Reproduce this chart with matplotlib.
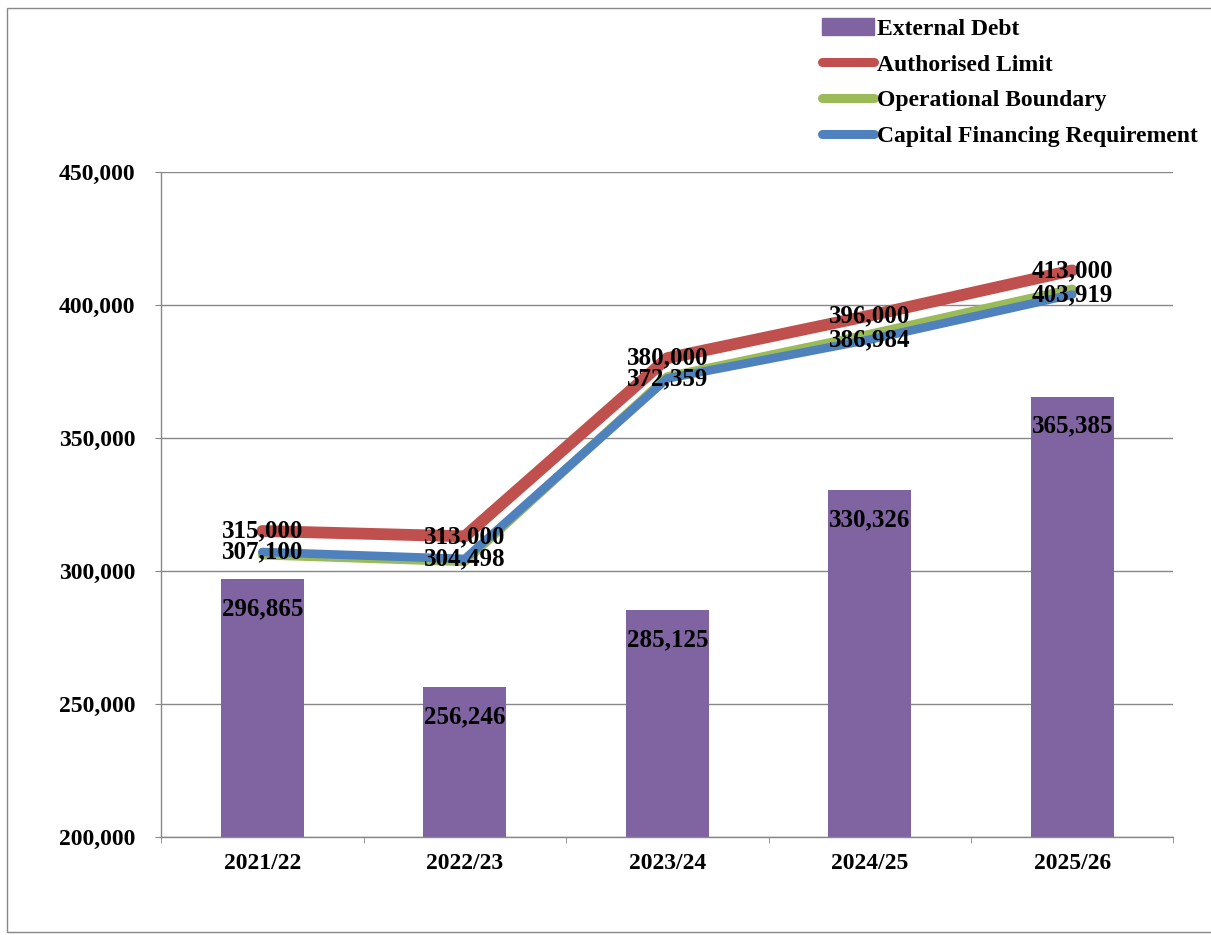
import numpy as np
import matplotlib
matplotlib.use("Agg")
import matplotlib.pyplot as plt
from matplotlib.patches import Rectangle, Patch
from matplotlib.lines import Line2D
from matplotlib.ticker import FuncFormatter

plt.rcParams.update({
    "font.family": ["Liberation Serif", "DejaVu Serif"],
    "font.weight": "bold",
})

# --- data
years = ["2021/22", "2022/23", "2023/24", "2024/25", "2025/26"]
external_debt = [296865, 256246, 285125, 330326, 365385]
authorised_limit = [315000, 313000, 380000, 396000, 413000]
operational_boundary = [306000, 303500, 373000, 389000, 406000]
cfr = [307100, 304498, 372359, 386984, 403919]

c_bar = "#8064A2"
c_red = "#C0504D"
c_green = "#9BBB59"
c_blue = "#4F81BD"
c_axis = "#888888"

fig = plt.figure(figsize=(12.11, 9.35), dpi=100)
ax = fig.add_axes([0.133, 0.105, 0.836, 0.711])

x = np.arange(len(years))

# --- bars and lines
bars = ax.bar(x, external_debt, width=0.41, color=c_bar, zorder=2)
ax.plot(x, authorised_limit, color=c_red, lw=8.5, solid_capstyle="round",
        solid_joinstyle="round", zorder=3)
ax.plot(x, operational_boundary, color=c_green, lw=6.5, solid_capstyle="round",
        solid_joinstyle="round", zorder=4)
ax.plot(x, cfr, color=c_blue, lw=6.2, solid_capstyle="round",
        solid_joinstyle="round", zorder=5)

# --- data labels
lab_fs = 18
for xi, v in zip(x, external_debt):
    ax.annotate(f"{v:,}", (xi, v), xytext=(0, -21), textcoords="offset points",
                ha="center", va="center", fontsize=lab_fs, fontweight="bold", zorder=6)
for xi, v in zip(x, authorised_limit):
    ax.text(xi, v, f"{v:,}", ha="center", va="center", fontsize=lab_fs,
            fontweight="bold", zorder=6)
for xi, v in zip(x, cfr):
    ax.text(xi, v, f"{v:,}", ha="center", va="center", fontsize=lab_fs,
            fontweight="bold", zorder=6)

# --- axes setup
ax.set_xlim(-0.5, len(years) - 0.5)
ax.set_ylim(200000, 450000)
ax.set_yticks(np.arange(200000, 450001, 50000))
ax.yaxis.set_major_formatter(FuncFormatter(lambda v, p: f"{int(v):,}"))
ax.set_xticks(x)
ax.set_xticklabels(years)
ax.set_xticks(np.arange(-0.5, len(years)), minor=True)
ax.tick_params(axis="x", which="major", length=0, pad=12, labelsize=17)
ax.tick_params(axis="x", which="minor", length=4.5, color=c_axis, direction="out")
ax.tick_params(axis="y", length=4.5, color=c_axis, pad=14, labelsize=17)

ax.grid(axis="y", color=c_axis, lw=1.0, zorder=0)
ax.set_axisbelow(True)
for s in ["top", "right"]:
    ax.spines[s].set_visible(False)
for s in ["left", "bottom"]:
    ax.spines[s].set_color(c_axis)
    ax.spines[s].set_linewidth(1.0)

# --- legend
handles = [
    Patch(color=c_bar),
    Line2D([], [], color=c_red, lw=6.5, solid_capstyle="round"),
    Line2D([], [], color=c_green, lw=6.5, solid_capstyle="round"),
    Line2D([], [], color=c_blue, lw=6.5, solid_capstyle="round"),
]
labels = ["External Debt", "Authorised Limit", "Operational Boundary",
          "Capital Financing Requirement"]
fig.legend(handles, labels, loc="upper left", bbox_to_anchor=(0.665, 0.998),
           frameon=False, fontsize=17, handlelength=2.2, handletextpad=0.15,
           labelspacing=0.6, borderaxespad=0.3)

# --- outer frame
fig.add_artist(Rectangle((0.006, 0.003), 1.2, 0.988, transform=fig.transFigure,
                         fill=False, edgecolor=c_axis, lw=1.0))

fig.savefig("out.png", dpi=100)
